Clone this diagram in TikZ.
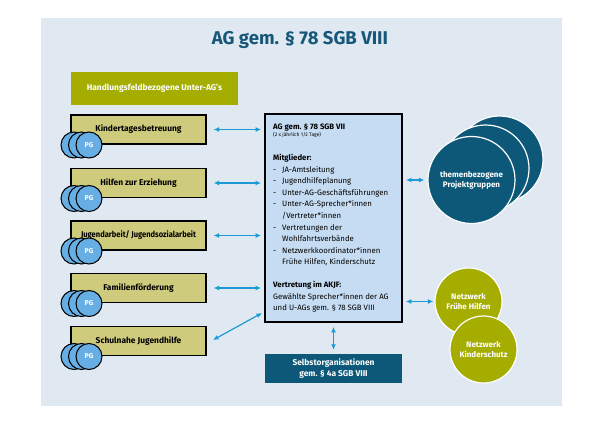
\documentclass[tikz,border=0pt]{standalone}
\usepackage{fontspec}
\setmainfont{Fira Sans}
\usetikzlibrary{arrows.meta}
\definecolor{bgc}{RGB}{224,233,241}
\definecolor{titlec}{RGB}{23,88,122}
\definecolor{olive}{RGB}{165,173,0}
\definecolor{khaki}{RGB}{207,203,125}
\definecolor{pgblue}{RGB}{103,174,228}
\definecolor{cbox}{RGB}{198,220,242}
\definecolor{teal}{RGB}{13,88,120}
\definecolor{arrc}{RGB}{27,154,214}
\tikzset{
  lbox/.style={draw=black, line width=1.2pt, fill=khaki, minimum width=135pt, minimum height=29pt, inner sep=0pt, font=\fontsize{8.4}{10}\selectfont\bfseries},
  pgc/.style={circle, draw=black, line width=1pt, fill=pgblue, minimum size=26pt, inner sep=0pt, text=white, font=\fontsize{7}{8}\selectfont\bfseries},
  arr/.style={arrc, line width=1.2pt, {Latex[length=5.5pt,width=5pt]}-{Latex[length=5.5pt,width=5pt]}},
  tcirc/.style={circle, draw=white, line width=1.2pt, fill=teal, minimum size=87pt, inner sep=0pt, text=white, align=center, font=\fontsize{8}{10}\selectfont\bfseries},
  ncirc/.style={circle, draw=white, line width=1.2pt, fill=olive, minimum size=67pt, inner sep=0pt, text=white, align=center, font=\fontsize{8}{10}\selectfont\bfseries},
  txt/.style={inner sep=0pt, anchor=north west, align=left, font=\fontsize{7.8}{11.6}\selectfont}
}
\begin{document}
\begin{tikzpicture}[x=1pt,y=-1pt]
\useasboundingbox (0,0) rectangle (600,423);
\fill[white] (0,0) rectangle (600,423);
\fill[bgc] (41,18) rectangle (562,406);
\node[text=titlec, font=\fontsize{18.5}{22}\selectfont\bfseries] (title) at (300,40) {AG gem. § 78 SGB VIII};
\node[fill=olive, minimum width=167pt, minimum height=33pt, inner sep=0pt, text=white, font=\fontsize{8.4}{10}\selectfont\bfseries] (hf) at (154.5,88.5) {Handlungsfeldbezogene Unter-AG's};
% left boxes
\foreach \n/\y/\t in {1/129.5/{Kindertagesbetreuung}, 2/183/{Hilfen zur Erziehung}, 3/235.5/{\scalebox{0.9}[1]{Jugendarbeit/ Jugendsozialarbeit}}, 4/288/{Familienförderung}, 5/341/{Schulnahe Jugendhilfe}}{
  \node[lbox] (k\n) at (138.5,\y) {\t};
  \node[pgc] (pa\n) at (74,\y+15.5) {};
  \node[pgc] (pb\n) at (81.5,\y+15.5) {};
  \node[pgc] (pc\n) at (89,\y+15.5) {PG};
}
% central box
\node[draw=black, line width=1.8pt, fill=cbox, minimum width=137pt, minimum height=208pt, inner sep=0pt] (ag) at (333.5,218) {};
\node[txt, font=\fontsize{7.8}{9}\selectfont\bfseries] (h1) at (273,123.5) {AG gem. § 78 SGB VII};
\node[txt, font=\fontsize{5}{6}\selectfont] (h2) at (273,132.5) {(2 x jährlich 1/2 Tage)};
\node[txt] (mg) at (273,154) {\textbf{Mitglieder:}\\
\makebox[9pt][l]{-}JA-Amtsleitung\\
\makebox[9pt][l]{-}Jugendhilfeplanung\\
\makebox[9pt][l]{-}Unter-AG-Geschäftsführungen\\
\makebox[9pt][l]{-}Unter-AG-Sprecher*innen\\
\hspace*{9pt}/Vertreter*innen\\
\makebox[9pt][l]{-}Vertretungen der\\
\hspace*{9pt}Wohlfahrtsverbände\\
\makebox[9pt][l]{-}Netzwerkkoordinator*innen\\
\hspace*{9pt}Frühe Hilfen, Kinderschutz};
\node[txt] (vt) at (273,281) {\textbf{Vertretung im AKJF:}\\
Gewählte Sprecher*innen der AG\\
und U-AGs gem. § 78 SGB VIII};
\node[fill=teal, minimum width=137pt, minimum height=29pt, inner sep=0pt, text=white, align=center, font=\fontsize{8.4}{10.5}\selectfont\bfseries] (so) at (333.5,368.5) {Selbstorganisationen\\gem. § 4a SGB VIII};
% right circles
\node[tcirc] (t3) at (499.5,159.5) {};
\node[tcirc] (t2) at (485.5,168.5) {};
\node[tcirc] (t1) at (471.5,180) {themenbezogene\\Projektgruppen};
\node[ncirc] (n1) at (468.5,301.5) {Netzwerk\\Frühe Hilfen};
\node[ncirc] (n2) at (483.5,349.5) {Netzwerk\\Kinderschutz};
% arrows
\foreach \n in {1,2,3,4}{
  \draw[arr, shorten <=7pt, shorten >=3pt] (k\n.east) -- (k\n.east -| ag.west);
}
\coordinate (s5) at (213,340);
\coordinate (e5) at (262,313);
\draw[arr] (s5) -- (e5);
\draw[arr, shorten <=4pt, shorten >=4pt] (ag.south) -- (so.north);
\draw[arr, shorten <=3pt, shorten >=3pt] (ag.east |- t1.west) -- (t1.west);
\draw[arr, shorten <=3pt, shorten >=1pt] (ag.east |- n1.west) -- (n1.west);
\end{tikzpicture}
\end{document}
